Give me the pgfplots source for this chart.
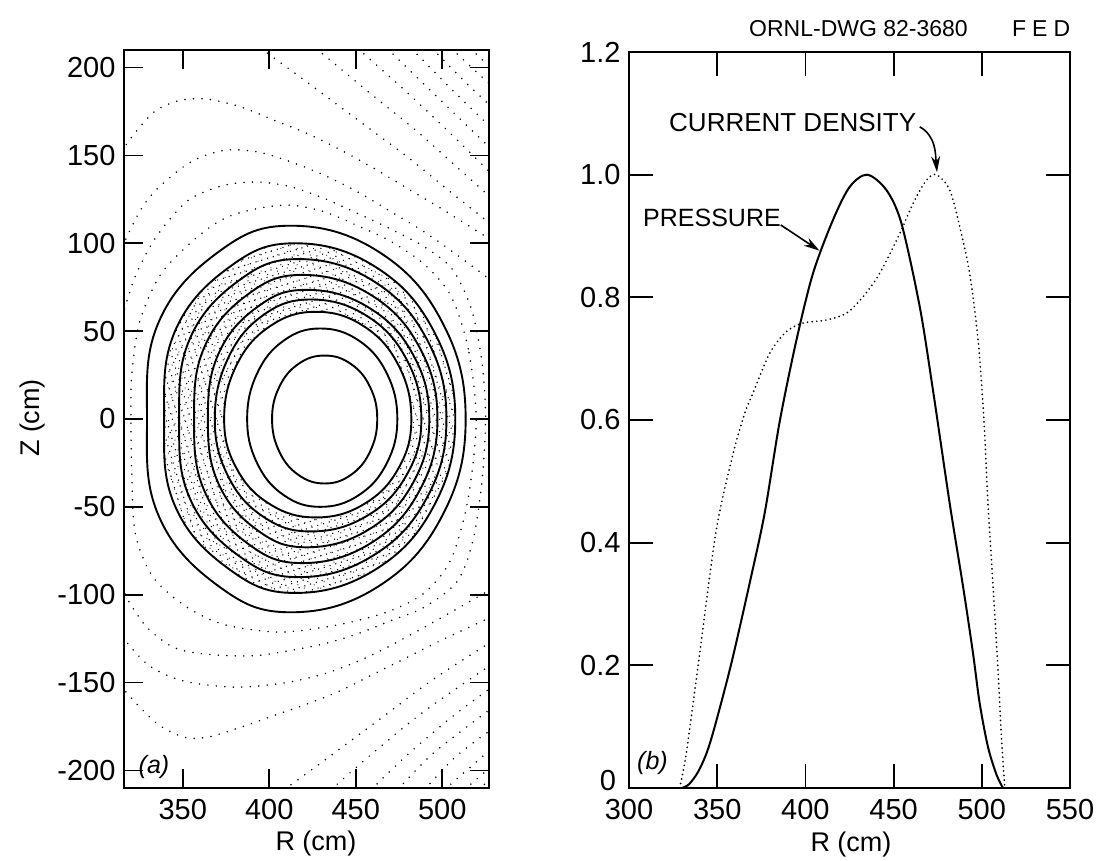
\documentclass[border=0pt]{standalone}
\usepackage{fontspec}
\setmainfont{Liberation Sans}
\usepackage{pgfplots}
\pgfplotsset{compat=1.18}
\usetikzlibrary{arrows.meta,patterns.meta}
\tikzset{
  cont/.style={line width=1.9pt, black},
  dotc/.style={line width=1.7pt, dash pattern=on 0pt off 8.5pt, line cap=round, black},
  dotj/.style={line width=1.9pt, dash pattern=on 0pt off 4.6pt, line cap=round, black},
}
\pgfplotsset{
  every axis/.append style={
    scale only axis,
    axis line style={line width=1.8pt},
    tick align=inside,
    major tick style={line width=1.8pt, black},
    tick label style={font=\fontsize{29}{30}\selectfont},
    xticklabel style={yshift=-8pt},
    yticklabel style={xshift=-5pt},
  }
}
\begin{document}
\begin{tikzpicture}
\useasboundingbox (0pt,0pt) rectangle (1098pt,861pt);
% ---------------- (a) flux surfaces ----------------
\begin{axis}[at={(124pt,73pt)}, anchor=south west, width=365pt, height=738pt,
  xmin=316, xmax=527, ymin=-210, ymax=210,
  xtick={350,400,450,500}, xticklabels={350,400,450,500},
  ytick={-200,-150,-100,-50,0,50,100,150,200},
  yticklabels={-200,-150,-100,-50,0,50,100,150,200},
  major tick length=19pt]
% stippled band (between surfaces c8 and c3)
\addplot[draw=none, pattern={Dots[distance=6pt, radius=0.75pt, angle=17]}, smooth cycle, tension=0.7] coordinates {(507.5,0) (495.1,50) (461.3,86.6) (415,100) (377.1,86.6) (345.5,50) (339.2,0) (345.5,-49.5) (377.1,-85.7) (415,-99) (461.3,-85.7) (495.1,-49.5)};
\addplot[draw=none, pattern={Dots[distance=7.3pt, radius=0.6pt, angle=63, xshift=2pt, yshift=1pt]}, smooth cycle, tension=0.7] coordinates {(507.5,0) (495.1,50) (461.3,86.6) (415,100) (377.1,86.6) (345.5,50) (339.2,0) (345.5,-49.5) (377.1,-85.7) (415,-99) (461.3,-85.7) (495.1,-49.5)};
\addplot[draw=none, fill=white, smooth cycle, tension=0.7] coordinates {(482.1,0) (474.7,30.5) (454.6,52.8) (427,61) (400.4,52.8) (381,30.5) (373.9,0) (381,-28) (400.4,-48.5) (427,-56) (454.6,-48.5) (474.7,-28)};
% solid closed surfaces
\addplot[cont, smooth cycle, tension=0.7] coordinates {(462.4,0) (458.3,18.1) (447.2,31.3) (432,36.1) (416.8,31.3) (405.7,18.1) (401.6,0) (405.7,-18.4) (416.8,-31.8) (432,-36.7) (447.2,-31.8) (458.3,-18.4)};
\addplot[cont, smooth cycle, tension=0.7] coordinates {(474,0) (468,25.8) (451.8,44.6) (429.5,51.5) (408.3,44.6) (392.9,25.8) (387.2,0) (392.9,-25) (408.3,-43.3) (429.5,-50) (451.8,-43.3) (468,-25)};
\addplot[cont, smooth cycle, tension=0.7] coordinates {(482.1,0) (474.7,30.5) (454.6,52.8) (427,61) (400.4,52.8) (381,30.5) (373.9,0) (381,-28) (400.4,-48.5) (427,-56) (454.6,-48.5) (474.7,-28)};
\addplot[cont, smooth cycle, tension=0.7] coordinates {(487.9,0) (479.3,34) (456,58.9) (424,68) (396.2,58.9) (375.9,34) (368.5,0) (375.9,-32) (396.2,-55.4) (424,-64) (456,-55.4) (479.3,-32)};
\addplot[cont, smooth cycle, tension=0.7] coordinates {(492.5,0) (483,36.8) (457,63.7) (421.5,73.5) (393,63.7) (370.5,36.8) (364.5,0) (370.5,-36.5) (393,-63.2) (421.5,-73) (457,-63.2) (483,-36.5)};
\addplot[cont, smooth cycle, tension=0.7] coordinates {(497.2,0) (486.7,41) (458.1,71) (419,82) (387.7,71) (362.5,41) (356.5,0) (362.5,-41) (387.7,-71) (419,-82) (458.1,-71) (486.7,-41)};
\addplot[cont, smooth cycle, tension=0.7] coordinates {(502.4,0) (491,45.5) (459.7,78.8) (417,91) (382.4,78.8) (354,45.5) (347.9,0) (354,-45) (382.4,-77.9) (417,-90) (459.7,-77.9) (491,-45)};
\addplot[cont, smooth cycle, tension=0.7] coordinates {(507.5,0) (495.1,50) (461.3,86.6) (415,100) (377.1,86.6) (345.5,50) (339.2,0) (345.5,-49.5) (377.1,-85.7) (415,-99) (461.3,-85.7) (495.1,-49.5)};
\addplot[cont, smooth cycle, tension=0.7] coordinates {(513.5,0) (500,55) (463,95.3) (412.5,110) (370.9,95.3) (336,55) (329.3,0) (336,-55) (370.9,-95.3) (412.5,-110) (463,-95.3) (500,-55)};
% dotted (vacuum) surfaces
\addplot[dotc, smooth cycle] coordinates {(519.6,0) (515,40) (505,70) (489.6,88) (470.4,101) (451,110) (431.8,117.9) (412.5,121.7) (393.2,119.8) (373.9,114.1) (356.5,102) (337,82) (325,55) (320.5,25) (320,0) (320.5,-30) (322.5,-65) (332.8,-90) (352.3,-107) (373.9,-117) (404.8,-121.3) (431.8,-118.5) (451,-114.7) (470.4,-109) (489.6,-99) (505,-80) (515,-45)};
\addplot[dotc, smooth] coordinates {(315,58) (322,80) (331,98) (341,112) (354.6,125.5) (373.9,133) (393.2,134.9) (412.5,132.1) (431.8,125.5) (451,117) (470.4,108) (489.6,98) (506,85) (517,62) (523,32) (525,0) (523,-35) (518,-68) (509,-92) (489.6,-107.1) (470.4,-114.7) (451,-122.3) (431.8,-127.9) (412.5,-131.7) (393.2,-134.6) (373.9,-134.6) (354.6,-132.7) (342.7,-129) (329.2,-118.5) (319.5,-105) (315,-96)};
\addplot[dotc, smooth] coordinates {(315,98) (325,118) (335.3,131.1) (354.6,146.3) (373.9,152.9) (393.2,152) (412.5,146.3) (431.8,138.7) (451,129.3) (470.4,117.9) (489.6,106.5) (509,93) (528,79)};
\addplot[dotc, smooth] coordinates {(315,152) (319,158.6) (333.4,174.8) (348.8,181.4) (364.3,182) (383.5,177.6) (402.8,170) (422.1,162.4) (441.4,153) (460.7,142.5) (480,131.1) (499.3,119.8) (528,102)};
\addplot[dotc, smooth] coordinates {(395,211) (420,193) (450,171) (480,149) (505,129) (528,111)};
\addplot[dotc, smooth] coordinates {(427,211) (455,188) (485,164) (510,142) (528,126)};
\addplot[dotc, smooth] coordinates {(451,211) (475,190) (500,167) (528,140)};
\addplot[dotc, smooth] coordinates {(468,211) (490,190) (510,171) (528,154)};
\addplot[dotc, smooth] coordinates {(482,211) (505,188) (528,166)};
\addplot[dotc, smooth] coordinates {(494,211) (512,193) (528,178)};
\addplot[dotc, smooth] coordinates {(505,211) (528,190)};
\addplot[dotc, smooth] coordinates {(516,211) (528,200)};
\addplot[dotc, smooth] coordinates {(315,-124) (330,-140) (350,-149) (380,-152.6) (410,-150) (435,-144) (460,-134) (485,-121) (505,-110) (528,-97)};
\addplot[dotc, smooth] coordinates {(315,-151) (318,-156.4) (335.3,-173.5) (350.8,-181.1) (364.3,-181.1) (383.5,-175.4) (402.8,-168.7) (422.1,-162.1) (441.4,-154.5) (460.7,-145) (480,-135.5) (499.3,-126) (528,-112.8)};
\addplot[dotc, smooth] coordinates {(408.6,-211) (435,-192) (465,-170) (495,-148) (528,-127)};
\addplot[dotc, smooth] coordinates {(435.6,-211) (460,-190) (490,-166) (528,-140)};
\addplot[dotc, smooth] coordinates {(458.8,-211) (480,-191) (505,-170) (528,-153)};
\addplot[dotc, smooth] coordinates {(474.2,-211) (495,-190) (528,-165)};
\addplot[dotc, smooth] coordinates {(489.6,-211) (508,-192) (528,-177)};
\addplot[dotc, smooth] coordinates {(501.2,-211) (528,-188)};
\addplot[dotc, smooth] coordinates {(512.8,-211) (528,-198)};
\addplot[dotc, smooth] coordinates {(520.5,-211) (528,-205)};
\end{axis}
% ---------------- (b) profiles ----------------
\begin{axis}[at={(629pt,73pt)}, anchor=south west, width=441pt, height=736pt,
  xmin=300, xmax=550, ymin=0, ymax=1.2,
  xtick={300,350,400,450,500,550}, xticklabels={300,350,400,450,500,550},
  ytick={0,0.2,0.4,0.6,0.8,1.0,1.2}, yticklabels={,0.2,0.4,0.6,0.8,1.0,1.2},
  major tick length=24pt]
% pressure
\addplot[line width=2pt, black, smooth] coordinates {(330,0) (334,0.006) (339.1,0.026) (344,0.057) (348.6,0.1) (358,0.203) (368.4,0.334) (376.9,0.448) (385.4,0.597) (394.9,0.73) (404.3,0.839) (415.6,0.926) (425.1,0.98) (435,1.0) (445.9,0.975) (454.4,0.921) (464.8,0.785) (472.3,0.649) (481.8,0.464) (489.4,0.328) (495,0.22) (498.8,0.138) (503.5,0.067) (508.3,0.022) (512,0)};
% current density
\addplot[dotj, smooth] coordinates {(328.7,0) (332.5,0.057) (340.1,0.22) (349.5,0.421) (359,0.545) (365.5,0.61) (370.3,0.644) (379.8,0.709) (389.2,0.744) (398.6,0.758) (411.9,0.763) (423.2,0.774) (432.7,0.801) (442.1,0.839) (453.5,0.904) (461,0.953) (468.6,0.991) (474.3,1.0) (481.8,0.975) (487.5,0.915) (493.1,0.839) (497.9,0.73) (501.2,0.6) (503.5,0.464) (506.4,0.328) (509.2,0.192) (511.1,0.084) (513,0)};
\draw[line width=1.6pt, -{Stealth[length=16pt,width=9pt]}] (axis cs:386,0.918) -- (axis cs:408,0.876);
\draw[line width=1.6pt, -{Stealth[length=16pt,width=9pt]}] (axis cs:464.8,1.078) to[out=-30,in=95] (axis cs:474.6,1.004);
\end{axis}
% ---------------- texts ----------------
\node[font=\fontsize{29}{30}\selectfont] at (608pt,80pt) {0};
\node[font=\fontsize{27}{30}\selectfont, rotate=90] at (33pt,443pt) {Z (cm)};
\node[font=\fontsize{27}{30}\selectfont] at (316pt,17pt) {R (cm)};
\node[font=\fontsize{27}{30}\selectfont] at (851pt,16pt) {R (cm)};
\node[font=\fontsize{23}{25}\selectfont, anchor=base west, inner sep=0pt] at (749pt,824.5pt) {ORNL-DWG 82-3680};
\node[font=\fontsize{23}{25}\selectfont, anchor=base west, inner sep=0pt] at (1012pt,824.5pt) {F\hspace{6pt}E\hspace{6pt}D};
\node[font=\fontsize{26}{28}\selectfont, anchor=base west, inner sep=0pt] at (669pt,729.5pt) {CURRENT DENSITY};
\node[font=\fontsize{25}{28}\selectfont, anchor=base west, inner sep=0pt] at (643pt,634.5pt) {PRESSURE};
\node[font=\fontsize{25}{28}\selectfont\itshape] at (154pt,94pt) {(a)};
\node[font=\fontsize{25}{28}\selectfont\itshape] at (652.5pt,98pt) {(b)};
\end{tikzpicture}
\end{document}
